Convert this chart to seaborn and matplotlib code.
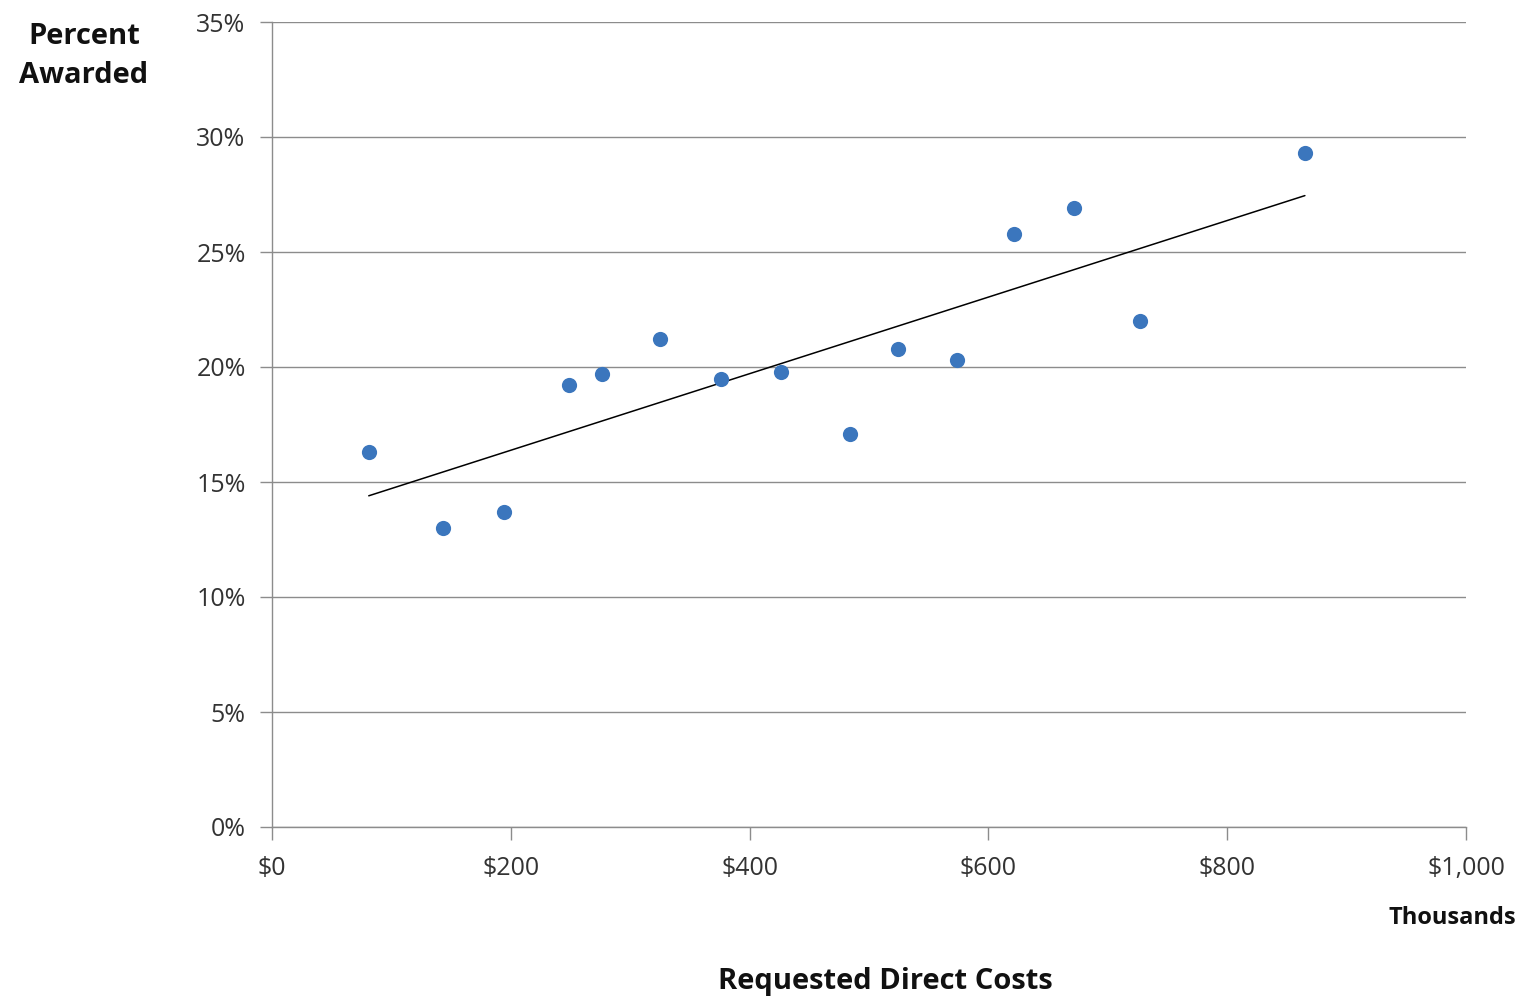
import numpy as np
import pandas as pd
import matplotlib.pyplot as plt
import seaborn as sns
from matplotlib.ticker import FuncFormatter

# Requested direct costs (thousands of $) vs percent awarded
costs = [81, 143, 194, 249, 276, 325, 376, 426, 484, 524, 574, 621, 672, 727, 865]
awarded = [16.3, 13.0, 13.7, 19.2, 19.7, 21.2, 19.5, 19.8, 17.1, 20.8, 20.3, 25.8, 26.9, 22.0, 29.3]

df = pd.DataFrame({'cost': costs, 'pct': awarded})

sns.set_style("white")
plt.rcParams['font.family'] = ['Open Sans', 'DejaVu Sans']

fig = plt.figure(figsize=(15.24, 10.0), dpi=100)
ax = fig.add_axes([0.1785, 0.173, 0.7835, 0.805])

sns.regplot(data=df, x='cost', y='pct', ax=ax, ci=None,
            scatter_kws={'s': 120, 'color': '#3b76bd', 'alpha': 1, 'linewidths': 0, 'zorder': 3},
            line_kws={'color': 'black', 'linewidth': 1.1, 'zorder': 2})

ax.set_xlim(0, 1000)
ax.set_ylim(0, 35)
ax.set_xticks(np.arange(0, 1001, 200))
ax.set_yticks(np.arange(0, 36, 5))
ax.xaxis.set_major_formatter(FuncFormatter(lambda v, p: f'${v:,.0f}'))
ax.yaxis.set_major_formatter(FuncFormatter(lambda v, p: f'{v:.0f}%'))
ax.grid(axis='y', color='#8c8c8c', linewidth=1.0)
ax.grid(axis='x', visible=False)
ax.set_axisbelow(True)

for s in ['top', 'right']:
    ax.spines[s].set_visible(False)
for s in ['left', 'bottom']:
    ax.spines[s].set_color('#8c8c8c')
    ax.spines[s].set_linewidth(1.0)

ax.tick_params(axis='both', which='major', direction='out', length=9, width=1,
               bottom=True, left=True,
               color='#8c8c8c', labelsize=18, labelcolor='#333333')
ax.tick_params(axis='x', pad=12)
ax.tick_params(axis='y', pad=10)
ax.set_xlabel('')
ax.set_ylabel('')

fig.text(0.055, 0.944, 'Percent\nAwarded', ha='center', va='center',
         fontsize=21, fontweight='bold', color='#111111', linespacing=1.45)
fig.text(0.995, 0.082, 'Thousands', ha='right', va='center',
         fontsize=17, fontweight='bold', color='#111111')
fig.text(0.581, 0.018, 'Requested Direct Costs', ha='center', va='center',
         fontsize=21, fontweight='bold', color='#111111')

plt.savefig('out.png', dpi=100)
